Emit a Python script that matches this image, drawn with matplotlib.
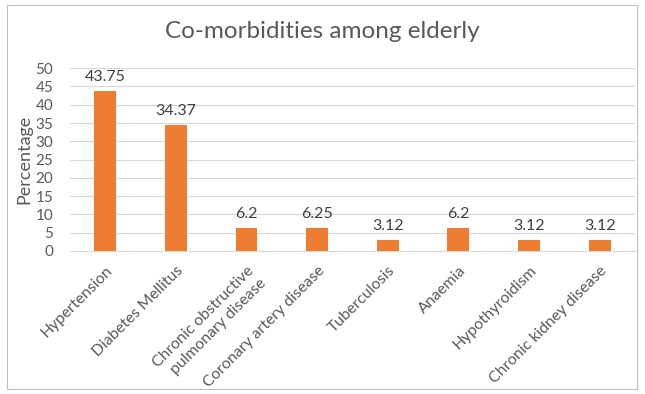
import matplotlib
matplotlib.use("Agg")
import matplotlib.pyplot as plt
from matplotlib.patches import Rectangle

categories = ["Hypertension", "Diabetes Mellitus", "Chronic obstructive\npulmonary disease",
              "Coronary artery disease", "Tuberculosis", "Anaemia", "Hypothyroidism",
              "Chronic kidney disease"]
values = [43.75, 34.37, 6.2, 6.25, 3.12, 6.2, 3.12, 3.12]
value_labels = ["43.75", "34.37", "6.2", "6.25", "3.12", "6.2", "3.12", "3.12"]
yticks = [0, 5, 10, 15, 20, 25, 30, 35, 40, 45, 50]

plt.rcParams['font.family'] = ['Lato', 'DejaVu Sans']
gray = "#595959"

fig = plt.figure(figsize=(6.45, 3.94), dpi=100)
ax = fig.add_axes([0.1085, 0.363, 0.876, 0.464])

x = list(range(len(categories)))
ax.bar(x, values, width=0.31, color="#ED7D31", zorder=3)
for xi, v, lab in zip(x, values, value_labels):
    ax.annotate(lab, (xi, v), xytext=(0, 5), textcoords="offset points",
                ha="center", va="bottom", fontsize=11.5, color="#404040")

ax.set_xlim(-0.5, len(categories) - 0.5)
ax.set_ylim(0, 50)
ax.set_yticks(yticks)
ax.yaxis.grid(True, color="#D9D9D9", linewidth=0.8, zorder=0)
for s in ["top", "right", "left"]:
    ax.spines[s].set_visible(False)
ax.spines["bottom"].set_color("#D9D9D9")
ax.tick_params(axis="both", length=0, colors=gray, labelsize=11)
ax.tick_params(axis="y", pad=12)
ax.set_xticks(x)
ax.set_xticklabels(categories, rotation=45, ha="right", rotation_mode="anchor",
                   fontsize=11.3, color=gray, linespacing=1.3)
ax.tick_params(axis="x", pad=9)
ax.set_ylabel("Percentage", fontsize=13, color=gray, labelpad=2)

fig.text(0.5, 0.92, "Co-morbidities among elderly", ha="center", va="center",
         fontsize=17.5, color=gray)

fig.patches.append(Rectangle((0.011, 0.013), 0.977, 0.975, transform=fig.transFigure,
                             fill=False, edgecolor="#BFBFBF", linewidth=0.8))

fig.savefig("out.png", dpi=100)
